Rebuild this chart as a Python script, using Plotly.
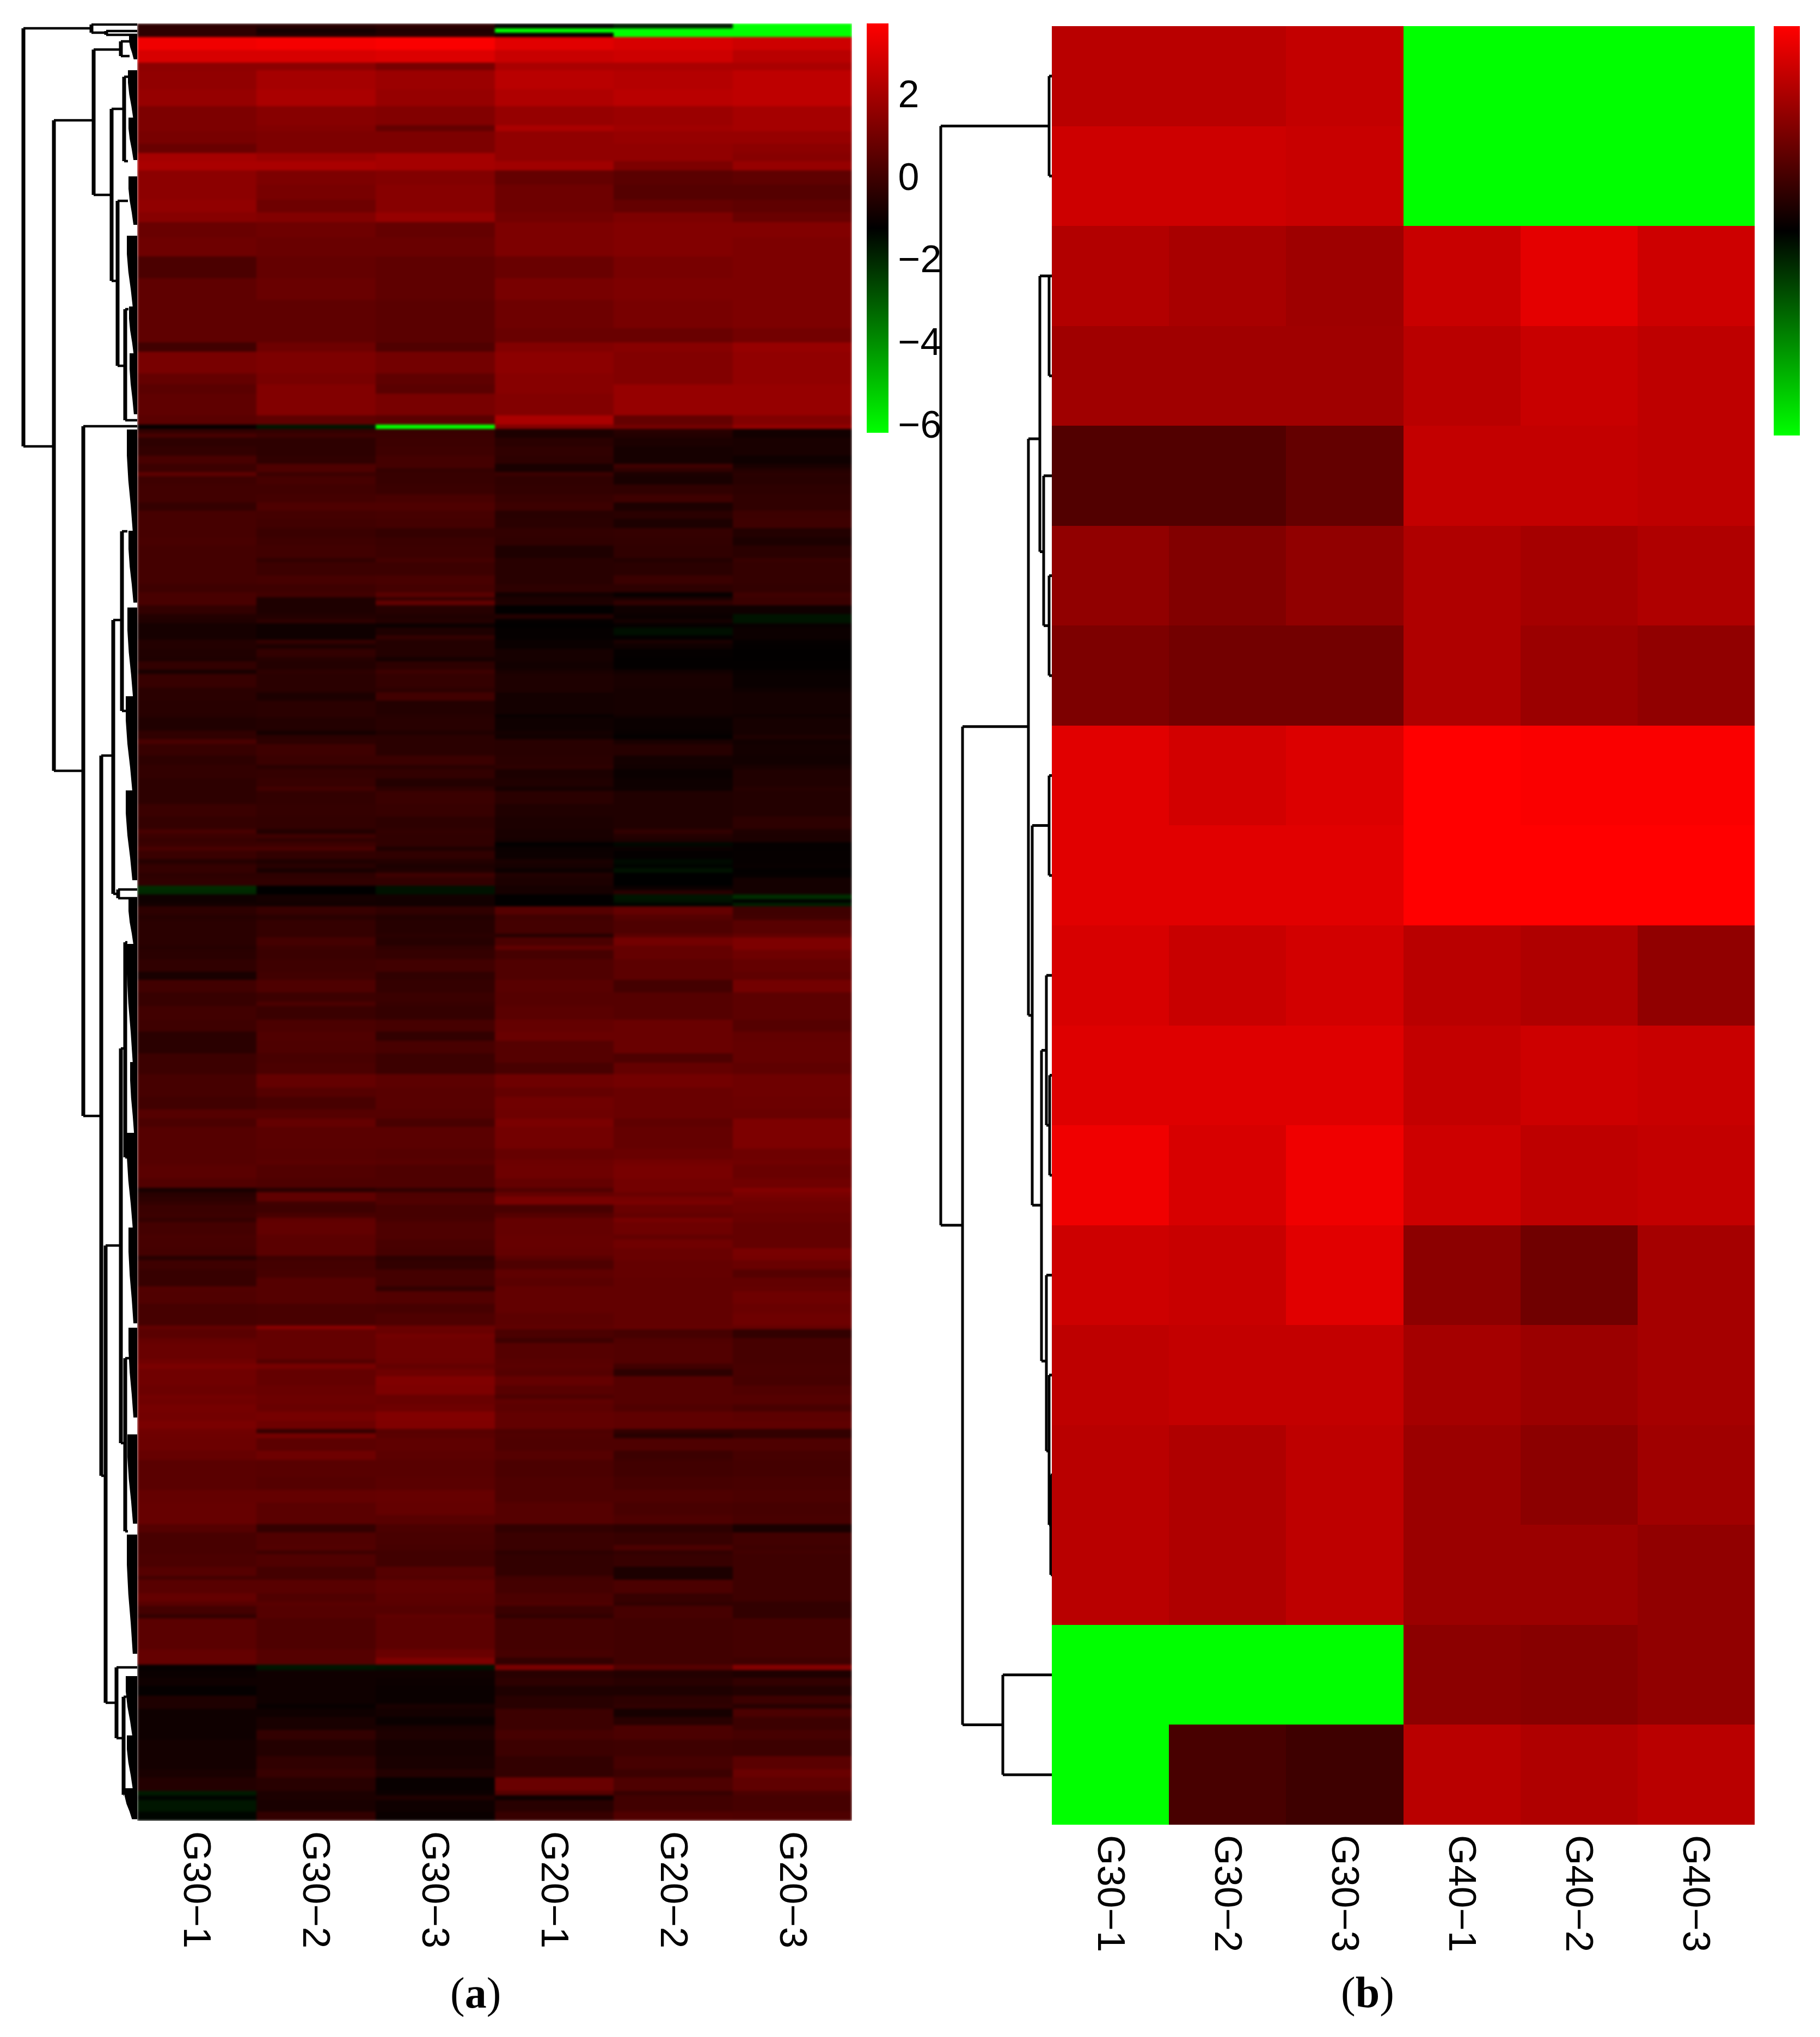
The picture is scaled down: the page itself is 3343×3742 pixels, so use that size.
import plotly.graph_objects as go

W, H = 3343, 3742
MID, HALF = -1.25, 4.95  # colour midpoint (black) and half span of the scale, log2 units

samples_a = ["G30−1", "G30−2", "G30−3", "G20−1", "G20−2", "G20−3"]
samples_b = ["G30−1", "G30−2", "G30−3", "G40−1", "G40−2", "G40−3"]
bar_ticks = [2, 0, -2, -4, -6]

# Gene-rank position of the band boundaries, panel (a)
band_edges_a = [
    43, 52, 60, 68, 92, 115, 129, 164, 195, 230, 241, 264, 281, 296, 313, 339, 367, 390, 408, 436,
    471, 511, 551, 603, 629, 646, 686, 706, 723, 763, 780, 788, 796, 804, 820, 837, 852, 860, 867, 875,
    890, 908, 923, 938, 953, 970, 987, 1002, 1025, 1033, 1057, 1073, 1088, 1097, 1103, 1112, 1128, 1137, 1145, 1153,
    1167, 1175, 1183, 1192, 1207, 1215, 1230, 1238, 1263, 1272, 1287, 1312, 1318, 1342, 1350, 1358, 1367, 1388, 1405, 1413,
    1430, 1445, 1453, 1477, 1500, 1523, 1532, 1540, 1547, 1555, 1563, 1578, 1587, 1595, 1603, 1612, 1627, 1635, 1643, 1652,
    1658, 1665, 1680, 1690, 1715, 1722, 1737, 1745, 1762, 1785, 1800, 1823, 1840, 1848, 1873, 1895, 1912, 1935, 1952, 1973,
    1998, 2015, 2038, 2055, 2070, 2110, 2130, 2140, 2165, 2182, 2190, 2198, 2207, 2213, 2228, 2237, 2245, 2268, 2277, 2293,
    2307, 2315, 2332, 2347, 2363, 2372, 2395, 2412, 2435, 2442, 2450, 2458, 2467, 2497, 2505, 2515, 2528, 2545, 2562, 2570,
    2580, 2593, 2610, 2625, 2633, 2642, 2665, 2682, 2713, 2737, 2760, 2783, 2800, 2815, 2838, 2848, 2855, 2878, 2895, 2902,
    2927, 2942, 2950, 2965, 2973, 3030, 3045, 3058, 3068, 3082, 3097, 3115, 3130, 3139, 3154, 3169, 3178, 3196, 3226, 3250,
    3265, 3290, 3298, 3307, 3328, 3345,
]

# Signal: + towards red, − towards green, full scale ±255
levels_a = [
    [45,40,45,3,-25,-255],[45,20,30,-255,-255,-255],[45,30,35,5,-255,-255],[240,245,250,225,215,205],
    [215,215,220,200,205,185],[140,140,120,170,170,170],[145,165,155,185,180,190],[150,170,150,175,185,190],
    [125,135,130,150,155,165],[125,130,100,170,160,165],[120,125,125,145,150,150],[105,125,125,145,145,140],
    [165,155,165,145,145,135],[170,170,165,160,125,150],[140,125,130,100,90,95],[140,120,135,110,85,85],
    [145,110,135,110,100,95],[135,130,150,115,125,105],[105,110,100,125,130,130],[110,105,105,125,130,125],
    [75,100,95,105,120,125],[95,105,95,120,125,125],[95,95,90,110,120,125],[95,95,90,105,105,115],
    [65,110,80,130,135,150],[120,125,115,140,130,145],[100,120,95,135,130,145],[90,130,90,135,150,150],
    [95,130,120,130,150,150],[90,95,90,170,100,130],[5,-22,-255,130,115,145],
    [50,50,55,28,40,18],[70,60,58,28,35,18],[45,45,60,42,28,25],[50,45,62,48,22,25],[72,48,68,45,22,15],
    [60,78,68,25,62,25],[60,78,52,25,48,35],[92,60,55,58,28,42],[62,70,55,48,25,40],[65,65,58,50,48,45],
    [65,68,72,55,62,48],[52,78,78,60,28,48],[70,68,70,40,42,60],[70,65,68,42,28,62],[70,58,52,50,52,35],
    [72,62,58,48,50,28],[68,65,60,30,48,42],[68,50,68,40,35,55],[68,60,60,40,42,52],[68,70,72,40,58,52],
    [62,62,68,45,45,50],[72,65,88,20,8,62],[72,30,55,28,28,58],[72,30,95,30,48,58],[50,30,38,2,15,15],
    [35,35,32,35,10,-20],[32,45,35,5,20,-20],[22,15,12,2,5,8],[22,15,30,5,-15,12],[22,15,50,5,2,12],
    [35,50,35,10,25,5],[35,30,35,10,15,3],[32,50,35,22,5,2],[30,38,22,22,3,2],[50,35,45,18,3,3],
    [25,45,60,25,18,8],[55,42,52,30,25,10],[42,42,45,30,22,15],[42,28,65,20,22,20],[40,42,35,20,22,20],
    [38,42,38,8,18,15],[32,35,40,15,10,22],[48,22,32,20,8,22],[48,42,42,18,3,30],[72,45,42,40,25,18],
    [55,62,42,40,38,20],[45,58,58,42,20,18],[50,42,42,45,18,25],[50,52,50,28,10,32],[45,55,35,32,14,32],
    [45,65,45,22,15,38],[45,50,58,42,32,35],[58,52,55,32,32,35],[52,50,45,28,32,45],[70,35,50,25,48,30],
    [60,62,48,25,35,28],[55,48,48,22,30,28],[58,60,48,2,-8,5],[72,72,32,10,10,5],[58,50,48,12,4,6],
    [38,32,35,25,-10,6],[52,40,28,22,-4,8],[52,25,32,12,-18,3],[45,45,60,32,0,5],[48,48,50,28,0,20],
    [-45,0,-18,22,10,20],[-40,0,-18,22,40,20],[15,20,18,2,-22,-45],[15,20,18,2,-18,0],[20,18,18,2,-5,-30],
    [45,55,48,85,100,62],[38,42,35,65,85,65],[42,52,38,68,78,88],[42,52,42,40,90,98],[42,68,38,75,115,125],
    [38,60,48,95,100,125],[42,58,52,70,100,110],[48,62,65,80,92,100],[25,65,48,80,92,95],[65,78,52,88,68,115],
    [55,60,58,85,85,92],[55,75,55,85,85,92],[65,58,52,90,85,92],[62,75,70,100,105,85],[42,80,50,105,105,98],
    [42,78,72,85,105,100],[60,72,60,85,78,100],[60,75,60,72,100,95],[70,100,92,110,115,110],[70,85,88,100,105,110],
    [65,72,88,112,105,108],[85,85,85,110,105,105],[75,100,72,122,95,125],[85,90,90,115,100,125],[85,88,85,102,105,110],
    [85,90,88,108,115,112],[90,82,78,110,120,105],[82,78,78,100,115,112],[25,42,50,82,115,130],[40,95,78,100,105,122],
    [45,95,80,120,118,115],[50,65,80,120,122,110],[58,62,70,72,105,110],[60,72,70,85,100,105],[52,95,72,100,118,105],
    [68,98,78,100,110,100],[72,92,78,102,98,100],[70,90,72,102,112,100],[68,90,70,100,105,120],[40,62,45,90,105,118],
    [62,68,50,78,100,105],[55,70,68,95,100,85],[55,85,68,90,98,98],[82,85,50,98,98,100],[80,85,82,98,98,110],
    [70,72,70,98,98,105],[70,72,78,92,98,110],[98,135,108,95,100,100],[90,100,105,75,70,50],[90,100,115,75,70,50],
    [100,100,110,62,80,70],[105,100,110,85,82,70],[112,85,108,88,82,70],[122,118,100,90,65,72],[112,100,110,85,45,72],
    [112,100,128,100,85,70],[108,105,125,88,85,80],[115,108,105,78,85,85],[112,108,105,95,85,85],
    [118,105,110,92,80,72],[115,118,130,98,95,92],[122,110,128,98,95,95],[112,55,88,78,50,50],[110,115,90,80,40,50],
    [108,92,95,78,78,78],[102,110,92,85,60,70],[90,88,88,75,65,68],[90,85,90,78,70,72],[100,100,102,78,78,75],
    [102,90,100,85,72,70],[102,90,88,85,78,72],[85,52,75,50,45,25],[72,80,72,58,55,65],[72,82,70,58,75,62],
    [72,62,65,45,50,65],[75,80,65,50,55,62],[85,68,85,50,28,62],[68,68,82,65,28,62],[88,88,95,68,75,62],
    [100,80,92,75,55,62],[88,88,90,78,50,50],[68,85,85,58,70,50],[52,85,95,50,70,50],[90,78,92,68,65,68],
    [100,85,105,70,65,68],[100,85,125,50,65,62],[5,-22,-18,120,85,130],[10,15,15,40,35,30],[15,15,12,45,40,50],
    [5,15,10,30,30,35],[30,15,10,40,45,60],[30,8,25,40,48,40],[15,15,20,60,22,75],[15,25,10,60,40,60],
    [15,25,25,60,75,60],[15,50,30,70,75,70],[20,35,22,60,62,60],[20,48,25,50,70,90],[25,55,35,50,60,105],
    [35,40,8,105,78,95],[-28,28,12,85,55,75],[-5,28,30,15,65,70],[-22,25,15,40,65,70],[-5,50,10,55,80,78],
]

# Panel (b): one row per gene, same reading
levels_b = [
    [185,185,195,-255,-255,-255],[205,205,200,-255,-255,-255],[178,168,158,200,228,205],[160,160,160,185,200,190],
    [82,82,100,195,195,190],[145,130,145,175,165,175],[125,115,115,175,155,145],[225,210,220,255,250,250],
    [225,225,225,255,255,255],[215,200,210,185,175,145],[222,222,222,195,205,200],[240,215,240,205,190,195],
    [205,200,225,140,112,165],[190,195,195,165,155,165],[185,175,190,155,140,160],[185,175,190,155,155,145],
    [-255,-255,-255,140,135,145],[-255,72,62,185,175,185],
]
rows_b = list(range(18))

# Dendrogram (a): merge height, the two children's positions and heights
merge_a_h = [209, 84, 57, 153, 80, 30, 47, 24, 36, 22, 99, 66, 44, 28, 35, 58, 30, 22, 22, 38, 25]
merge_a_y0 = [52, 45, 57, 221, 91, 76, 200, 141, 369, 568, 783, 1388, 1139, 976, 1634, 2288, 1926, 1731, 2495, 3063, 3117]
merge_a_y1 = [820, 60, 64, 1416, 358, 103, 516, 296, 672, 772, 2050, 2711, 1642, 1306, 1650, 3128, 2651, 2126, 2813, 3193, 3297]
merge_a_h0 = [84, 0, 0, 80, 30, 14, 24, 17, 17, 16, 0, 44, 28, 18, 0, 30, 22, 18, 15, 0, 20]
merge_a_h1 = [153, 57, 0, 99, 47, 14, 36, 17, 22, 0, 66, 58, 35, 20, 0, 38, 22, 18, 17, 25, 24]

# Dense leaf clusters of dendrogram (a): first position, last position, height
cluster_a_top = [65, 130, 217, 325, 434, 564, 650, 790, 976, 1117, 1280, 1453, 1653, 1735, 1952, 2082, 2256, 2440, 2636, 2820, 3080, 3189, 3286]
cluster_a_bot = [108, 217, 293, 412, 564, 650, 760, 976, 1106, 1280, 1453, 1616, 1735, 1952, 2082, 2256, 2430, 2603, 2798, 3037, 3189, 3286, 3341]
cluster_a_h = [14, 16, 15, 15, 18, 14, 13, 18, 15, 17, 20, 20, 15, 18, 12, 18, 15, 15, 17, 18, 20, 18, 22]

# Dendrogram (b)
merge_b_h = [204, 5, 164, 43, 22, 5, 15, 5, 36, 5, 19, 10, 4, 10, 5, 2, 90]
merge_b_y0 = [0.5, 0, 6.51, 3.63, 2, 2, 4, 5, 7.5, 7, 9.75, 9, 10, 12, 13, 14, 16]
merge_b_y1 = [11.5, 1, 16.5, 9.4, 4.76, 3, 5.5, 6, 11.3, 8, 12.86, 10.5, 11, 13.76, 14.5, 15, 17]
merge_b_h0 = [5, 0, 43, 22, 5, 0, 0, 0, 5, 0, 10, 0, 0, 0, 0, 0, 0]
merge_b_h1 = [164, 0, 90, 36, 15, 0, 5, 0, 19, 0, 10, 4, 0, 5, 2, 0, 0]

COLORSCALE = [[0, "#00ff00"], [0.5, "#000000"], [1, "#ff0000"]]


def to_log2(rows):
    return [[MID + v / 255 * HALF for v in r] for r in rows]


def merge_paths(hs, y0s, y1s, h0s, h1s):
    vx, vy, sx, sy = [], [], [], []
    for h, y0, y1, h0, h1 in zip(hs, y0s, y1s, h0s, h1s):
        vx += [h, h, None]
        vy += [y0, y1, None]
        sx += [h0, h, None, h, h1, None]
        sy += [y0, y0, None, y1, y1, None]
    return vx, vy, sx, sy


def px_x(v):
    return v / W


def px_y(v):
    return 1 - v / H


fig = go.Figure()
fig.add_trace(go.Heatmap(
    z=to_log2(levels_a), x=samples_a, y=band_edges_a, xaxis="x", yaxis="y",
    zmin=MID - HALF, zmax=MID + HALF, colorscale=COLORSCALE,
    colorbar=dict(
        thicknessmode="pixels", thickness=40, lenmode="pixels", len=752,
        x=px_x(1592), xanchor="left", y=px_y(43), yanchor="top", xpad=0, ypad=0,
        outlinewidth=0, tickmode="array", tickvals=bar_ticks, ticklen=4, ticks="outside",
        tickcolor="rgba(0,0,0,0)", tickfont=dict(family="Liberation Sans", size=70, color="black"),
    ),
))
fig.add_trace(go.Heatmap(
    z=to_log2(levels_b), x=samples_b, y=rows_b, xaxis="x3", yaxis="y3",
    zmin=MID - HALF, zmax=MID + HALF, colorscale=COLORSCALE,
    colorbar=dict(
        thicknessmode="pixels", thickness=48, lenmode="pixels", len=752,
        x=px_x(3258), xanchor="left", y=px_y(48), yanchor="top", xpad=0, ypad=0,
        outlinewidth=0, showticklabels=False, ticks="",
    ),
))

# Filled leaf clusters: broad where the cluster starts, narrowing towards the last leaf
wx, wy = [], []
for top, bot, h in zip(cluster_a_top, cluster_a_bot, cluster_a_h):
    span = bot - top
    wx += [0, h, h, h * 0.85, h * 0.6, h * 0.4, 0, None]
    wy += [top, top, top + span * 0.25, top + span * 0.5, top + span * 0.75, bot, bot, None]
fig.add_trace(go.Scatter(x=wx, y=wy, xaxis="x2", yaxis="y2", mode="lines", fill="toself",
                         fillcolor="black", line=dict(color="black", width=2), hoverinfo="skip"))

vx, vy, sx, sy = merge_paths(merge_a_h, merge_a_y0, merge_a_y1, merge_a_h0, merge_a_h1)
fig.add_trace(go.Scatter(x=vx, y=vy, xaxis="x2", yaxis="y2", mode="lines",
                         line=dict(color="black", width=7), hoverinfo="skip"))
fig.add_trace(go.Scatter(x=sx, y=sy, xaxis="x2", yaxis="y2", mode="lines",
                         line=dict(color="black", width=4.5), hoverinfo="skip"))

vx, vy, sx, sy = merge_paths(merge_b_h, merge_b_y0, merge_b_y1, merge_b_h0, merge_b_h1)
fig.add_trace(go.Scatter(x=vx + sx, y=vy + sy, xaxis="x4", yaxis="y4", mode="lines",
                         line=dict(color="black", width=5), hoverinfo="skip"))

hidden = dict(visible=False, showgrid=False, zeroline=False)
tick_a = dict(tickangle=90, ticks="", showgrid=False, zeroline=False, showline=False,
              ticklabelstandoff=18,
              tickfont=dict(family="Liberation Sans", size=71, color="black"))
fig.update_layout(
    width=W, height=H, margin=dict(l=0, r=0, t=0, b=0), autosize=False,
    paper_bgcolor="white", plot_bgcolor="white", showlegend=False,
    xaxis=dict(domain=[px_x(252), px_x(1565)], anchor="y", automargin=False, **tick_a),
    yaxis=dict(domain=[px_y(3345), px_y(43)], range=[3345, 43], **hidden),
    xaxis2=dict(domain=[0, px_x(252)], range=[252, 0], anchor="y2", **hidden),
    yaxis2=dict(domain=[px_y(3345), px_y(43)], range=[3345, 43], anchor="x2", **hidden),
    xaxis3=dict(domain=[px_x(1932), px_x(3223)], anchor="y3", automargin=False, **tick_a),
    yaxis3=dict(domain=[px_y(3352), px_y(48)], range=[17.5, -0.5], anchor="x3", **hidden),
    xaxis4=dict(domain=[px_x(1700), px_x(1932)], range=[232, 0], anchor="y4", **hidden),
    yaxis4=dict(domain=[px_y(3352), px_y(48)], range=[17.5, -0.5], anchor="x4", **hidden),
    annotations=[
        dict(text="(<b>a</b>)", xref="paper", yref="paper", x=px_x(873), y=px_y(3661), showarrow=False,
             xanchor="center", yanchor="middle", font=dict(family="Liberation Serif", size=80, color="black")),
        dict(text="(<b>b</b>)", xref="paper", yref="paper", x=px_x(2512), y=px_y(3660), showarrow=False,
             xanchor="center", yanchor="middle", font=dict(family="Liberation Serif", size=80, color="black")),
    ],
)

assert len(band_edges_a) == len(levels_a) + 1, (len(band_edges_a), len(levels_a))
# The reference is a soft, resampled image: soften the dense panel's bands the same way
soften = ("document.body.style.margin='0';"
          "var hm=document.querySelectorAll('.hm image');"
          "if(hm.length){hm[0].style.filter='blur(2px)';}")
fig.write_html("out.html", post_script=soften, config={"displayModeBar": False})
